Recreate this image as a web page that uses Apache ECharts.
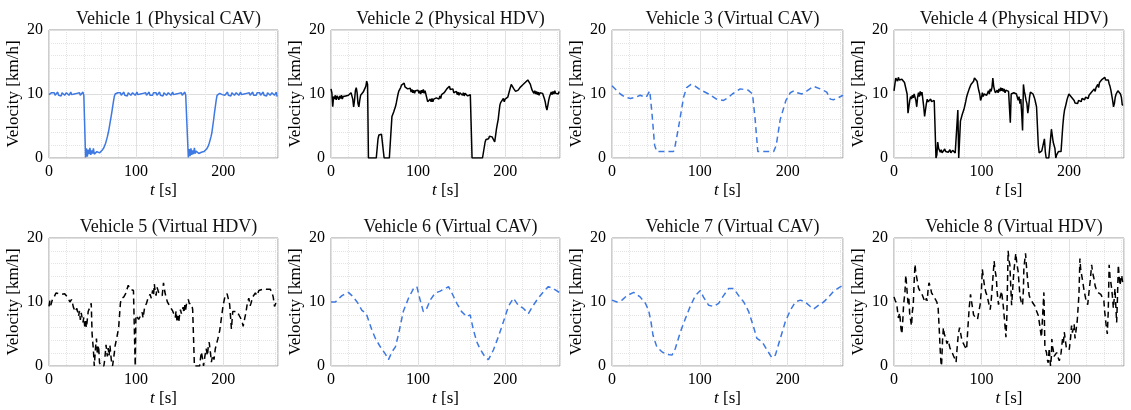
<!DOCTYPE html>
<html><head><meta charset="utf-8">
<script src="https://cdn.jsdelivr.net/npm/echarts@6/dist/echarts.min.js"></script>
<style>html,body{margin:0;padding:0;background:#fff}#c{width:1131px;height:410px}</style>
</head><body><div id="c"></div>
<script>
const titles = ['Vehicle 1 (Physical CAV)','Vehicle 2 (Physical HDV)','Vehicle 3 (Virtual CAV)','Vehicle 4 (Physical HDV)',
                'Vehicle 5 (Virtual HDV)','Vehicle 6 (Virtual CAV)','Vehicle 7 (Virtual CAV)','Vehicle 8 (Virtual HDV)'];
const xTicks = [0,100,200];
const yTicks = [0,10,20];
// Vehicle 1, 2, 4: sampled every 1 s starting at t = 0
const v1 = [9.9,10.1,9.8,10.2,9.9,10.0,10.2,9.8,10.1,9.9,10.3,9.8,10.0,10.1,9.7,10.2,9.9,10.1,9.8,10.0,10.2,9.9,10.1,9.8,10.0,10.3,9.9,10.1,9.8,10.0,10.2,9.7,10.1,9.9,10.0,10.2,9.8,10.1,9.9,10.3,9.8,10.0,
0.1,1.5,0.2,1.3,0.6,1.6,0.5,1.2,0.7,1.5,0.6,0.9,0.7,1.0,0.8,0.9,0.8,
0.9,1.0,1.2,1.4,1.6,1.9,2.3,2.8,3.3,3.9,4.6,5.4,6.2,7.0,7.9,8.8,9.6,10.0,
10.1,9.8,10.2,9.9,10.0,10.2,9.8,10.1,9.9,10.3,9.8,10.0,10.1,9.7,10.2,9.9,10.1,9.8,10.0,10.2,9.9,10.1,9.8,10.0,10.3,9.9,10.1,9.8,10.0,10.2,9.7,10.1,9.9,10.0,10.2,9.8,10.1,9.9,10.3,9.8,10.0,10.1,9.8,10.2,9.9,10.0,10.2,9.8,10.1,9.9,10.3,9.8,10.0,10.1,9.7,10.2,9.9,10.1,9.8,10.0,10.2,9.9,10.1,9.8,10.0,10.3,9.9,10.1,9.8,10.0,10.2,9.7,10.1,9.9,10.0,10.2,9.8,10.1,9.9,10.3,9.8,10.0,10.1,
0.1,1.4,0.3,1.5,0.5,1.2,0.6,1.6,0.7,1.1,0.8,0.9,0.7,1.0,0.8,0.9,0.8,
0.9,1.0,1.1,1.2,1.4,1.6,1.9,2.3,2.8,3.3,3.9,4.9,5.9,7.0,8.0,9.0,9.8,10.0,
9.9,10.1,9.8,10.2,9.9,10.0,10.2,9.8,10.1,9.9,10.3,9.8,10.0,10.1,9.7,10.2,9.9,10.1,9.8,10.0,10.2,9.9,10.1,9.8,10.0,10.3,9.9,10.1,9.8,10.0,10.2,9.7,10.1,9.9,10.0,10.2,9.8,10.1,9.9,10.3,9.8,10.0,10.1,9.8,10.2,9.9,10.0,10.2,9.8,10.1,9.9,10.3,9.8,10.0,10.1,9.7,10.2,9.9,10.1,9.8,10.0,10.2,9.9,10.1,9.8,10.0,10.3,9.6];
const v2 = [10.8,10.2,8.0,9.6,9.2,9.8,9.1,9.7,9.4,9.1,
9.7,9.3,9.8,9.2,9.6,9.9,9.3,9.7,10.0,9.4,
9.8,10.0,9.5,10.2,9.7,9.2,8.0,9.0,10.5,11.0,
10.2,8.5,8.0,9.0,9.8,10.0,9.9,10.3,10.6,10.2,
11.2,12.0,11.5,0,0,0,0,0,0,0,
0,0,0,0,3.0,3.6,3.8,3.6,3.7,3.5,
3.6,0,0,0,0,0,0,0,0,0,
6.5,6.8,7.2,7.6,8.0,8.6,9.3,10.0,10.5,10.8,
11.0,11.4,11.6,11.2,11.7,11.1,11.0,11.4,10.8,11.1,
10.5,10.9,10.3,10.7,10.2,10.6,10.1,10.5,10.7,10.2,
10.6,10.1,10.5,10.0,10.6,10.2,10.7,10.1,10.5,10.6,
10.3,8.8,9.1,8.6,9.2,8.8,9.3,8.8,9.2,9.4,
8.9,9.4,9.1,9.6,9.2,9.7,9.3,9.9,9.6,10.1,
10.2,10.5,10.2,10.8,10.9,10.5,11.2,10.7,11.0,10.4,
10.8,10.2,10.5,10.0,10.4,9.9,10.3,9.8,10.2,9.9,
10.3,9.8,10.2,9.7,10.1,9.8,10.2,9.7,10.0,9.6,
9.9,9.7,0,0,0,0,0,0,0,0,
0,0,0,0,0,0,0,2.5,2.9,2.7,
3.2,3.0,3.4,3.1,3.6,3.3,3.0,3.0,2.5,3.5,
4.5,5.3,6.0,7.2,8.3,8.7,9.0,8.7,9.3,8.8,
9.2,8.9,9.4,9.5,10.0,10.5,10.8,11.5,11.2,11.4,
10.8,10.6,10.4,10.2,10.3,10.6,10.8,11.0,11.2,11.0,
11.4,11.6,11.5,11.8,11.7,12.0,12.2,12.5,12.0,11.5,
11.0,10.6,10.5,10.1,10.5,10.0,10.4,9.9,10.3,9.8,
10.2,9.9,10.0,10.1,9.8,9.3,8.8,8.0,7.5,8.2,
9.0,9.6,9.8,10.3,9.9,10.4,10.0,10.5,10.1,9.9,
10.4,10.0,10.4];
const v4 = [10.5,11.5,12.5,12.3,12.0,12.6,12.2,12.4,11.9,12.3,
12.0,12.2,11.8,12.1,11.5,10.0,7.0,8.0,9.0,9.6,
9.2,9.8,9.4,10.0,9.5,9.0,8.0,9.5,10.2,9.6,
10.4,9.8,10.3,10.0,8.0,6.5,7.5,8.5,9.2,8.8,
9.0,8.6,9.2,8.8,9.1,8.7,9.0,8.9,0,0.5,
2.5,1.5,1.2,0.9,1.3,0.8,1.1,0.9,1.4,1.0,
0.8,1.2,0.9,1.1,1.3,0.8,1.0,1.2,0.9,1.1,
0.8,1.0,1.0,7.5,0,0,5.8,6.3,6.8,7.0,
7.6,8.2,8.8,9.5,10.0,10.4,10.8,11.0,11.5,11.2,
11.8,12.0,12.5,12.2,12.6,12.0,11.2,10.5,10.0,9.0,
9.4,10.2,9.6,10.0,9.7,10.3,9.8,10.1,10.5,10.0,
10.8,10.4,11.0,12.5,11.2,10.6,10.2,10.0,10.6,10.2,
10.8,10.4,11.0,10.5,10.9,10.4,10.8,10.2,10.6,10.3,
10.7,10.4,10.5,5.5,10.0,10.3,9.8,10.2,9.9,10.4,
10.0,9.5,9.0,9.6,8.5,9.2,7.0,4.3,11.5,10.4,
9.8,9.0,8.5,7.0,8.0,9.5,10.3,10.0,10.2,10.0,
9.6,9.2,8.6,8.0,5.0,2.0,0.8,1.0,0.7,1.1,
0.9,1.0,3.0,1.0,0,0,0,0,0,0.2,
4.5,3.5,2.5,2.0,1.5,0,0.5,0.8,1.0,0.7,
1.1,1.0,3.0,5.0,6.5,7.5,8.0,8.6,9.2,9.6,
10.0,9.7,10.2,9.5,9.8,9.3,9.0,8.6,8.3,8.8,
8.5,9.0,8.7,9.2,8.8,9.3,9.0,9.4,9.1,9.5,
9.2,9.6,9.3,9.8,9.5,10.0,10.3,10.0,10.5,10.8,
10.4,11.0,11.2,11.5,11.0,11.8,11.5,12.0,12.3,12.5,
12.1,12.6,12.2,12.4,12.0,12.2,11.6,11.2,10.6,10.3,
9.0,8.0,8.5,9.5,10.0,10.2,10.5,10.3,10.6,10.0,
9.5,8.3,8.3];
// Vehicles 3, 5, 6, 7, 8: [t (s), v (km/h)]
const v3 = [[0,11.3],[5,10.6],[9.5,10.0],[15,9.5],[21,9.3],[27,9.5],[32,9.8],[36,9.6],[39,9.5],[43,10.5],[45.5,7],[48.5,2],[51,1],[70,1],[72,2],[76,5],[81.5,9.5],[85,11],[90,11.5],[95,11.2],[100,10.7],[110,10],[119,9.2],[127,9],[132,9.4],[137,10],[146,10.8],[155,10.6],[160,10],[163,6],[166,1],[184,1],[187,2],[191.5,6],[198,9],[203,10.2],[207,10.5],[211,10.2],[216,10],[222,10.5],[229.5,11.2],[237,10.8],[244.5,10.3],[248.5,9.2],[252,9.1],[256,9.3],[263,9.8]];
const v5 = [[0,9.3],[1,10.2],[2,9.5],[4,10.4],[6,10.8],[8,11.4],[10,11.1],[12,11.3],[15,11.2],[18,11.3],[20,11.0],[22,10.6],[24,10.0],[26,10.4],[28,9.2],[30,8.5],[32,9.0],[34,7.8],[35,8.6],[36,7.2],[37,8.3],[39,6.8],[40,7.6],[41,6.2],[42,7.0],[43,6.0],[45,8.5],[47,9.2],[48.5,9.8],[49.5,5.0],[51,2.5],[52,0],[53.5,3.0],[54.5,4.3],[55.5,1.8],[57,3.2],[58,0.5],[60,0],[63,0],[64,1.0],[65.5,3.3],[67,1.5],[68,2.8],[69,1.6],[70,3.2],[71.5,1.0],[73,0],[75,2.0],[76,3.2],[78,4.5],[80,6.0],[82,9.8],[83,10.5],[85,10.2],[86,10.8],[88,11.3],[90,12.2],[91,12.6],[93,12.0],[95,12.2],[97,11.8],[98.5,11.8],[99,0],[99.8,7.9],[101,7.6],[103,7.3],[105,7.8],[107,8.4],[108,7.5],[110,9.3],[112,9.8],[113.5,10.5],[115,10.3],[116,11.2],[117.5,10.6],[119,11.8],[120,11.0],[121,12.8],[122,11.5],[123,11.0],[124,12.3],[126,11.5],[128,11.3],[130,11.0],[131.5,13.0],[133,11.6],[134,11.0],[136,10.0],[137,9.8],[139,9.3],[140.5,9.0],[142,8.6],[144,8.3],[145,7.6],[146,8.6],[147,7.0],[148,7.8],[149,6.8],[150,8.0],[151,8.8],[152,8.2],[154,9.2],[155,8.3],[156,9.5],[157,8.8],[158,9.8],[160,10.4],[161,9.8],[162,10.1],[164,9.6],[165,8.8],[166.5,8.5],[167,0],[173,0],[174,1.2],[175,2.2],[176.5,1.0],[177.5,0],[179,1.5],[180.5,2.7],[182,1.6],[183,3.2],[184,3.7],[185.5,2.0],[186.5,0.6],[188,1.7],[189.5,1.0],[191,2.7],[192.5,2.4],[194,4.3],[196,5.5],[198,7.5],[200,9.5],[202,10.8],[204.5,11.3],[206,11.0],[207.5,9.6],[209.5,5.8],[211,8.5],[213,8.3],[216,8.5],[218,8.4],[220,7.5],[222,6.8],[223,6.2],[225,7.6],[226,8.2],[228,10.0],[229.5,10.6],[231,9.4],[232,9.8],[234,10.8],[236,11.0],[237,11.4],[239,11.0],[241,11.8],[243,12.1],[246,12.0],[250,12.0],[254,12.0],[256,11.5],[257.5,10.8],[259,9.3],[260,9.6],[261,10.0],[263,10.4]];
const v6 = [[0,10],[5,10],[12.6,11],[20,11.5],[24,11],[30,10],[35.5,8.7],[40.5,8.2],[43,7.2],[47,5.6],[51,4.3],[56.6,3],[62.3,1.9],[66,1],[70,2.2],[74,3],[77.6,5],[83,8.5],[89,10.6],[94.8,12.1],[98.6,12.4],[102.4,10.3],[106,8.5],[110,9],[114,10.3],[119.6,11.4],[125.4,11.7],[131,12.1],[135,12.4],[138.8,11.4],[144.5,9.8],[150,8.5],[156,7.7],[159.8,8],[163.6,5.6],[167.4,3.8],[171,2.7],[177,1.4],[180.8,1],[186.5,2.5],[192.3,4.6],[198,6.9],[203.7,9.3],[209.5,10.6],[215,9.5],[221,9],[226.7,8.2],[232.4,9.5],[238,10.6],[244,11.6],[249.6,12.4],[255.4,12.1],[263,11.4]];
const v7 = [[0,10.3],[5.7,10],[11.4,10.3],[17,11],[24.7,11.5],[32,10.8],[38,9.8],[41.7,8.7],[44.4,6.9],[46.7,4.8],[51,3],[57,2.2],[62.6,1.8],[68.3,1.7],[72,2.7],[77.8,5.3],[83.5,7.4],[89,9.3],[94.9,11],[100.6,11.8],[104,10.8],[110,9.5],[115.7,9.3],[121.4,9.8],[127,11],[132.8,12.1],[138.5,12.1],[144.2,11],[150,10],[155.6,8.5],[160.5,6.4],[165,4.3],[170.8,3.8],[176.5,2.5],[182,1.3],[186,1.7],[191.6,4.3],[197.3,6.9],[203,8.7],[208.7,10],[214.4,10.3],[220,10],[225.8,9.3],[229.6,8.9],[235.3,9.5],[241,10],[246.7,10.8],[252.4,11.7],[258,12.2],[263,12.6]];
const v8 = [[0,10.8],[1.5,10.2],[3,9.8],[5,7.5],[6.5,8.3],[8,5.8],[9,5.0],[10,7.0],[11,9.6],[12.5,11.5],[13.5,14.2],[14.5,12.5],[16,9.8],[17,10.5],[18,8.0],[19,7.2],[20,6.3],[21,8.5],[22,9.5],[23,13.0],[24,15.9],[25,14.5],[26,13.8],[28,12.2],[30,11.6],[32,11.2],[34,10.5],[36,10.0],[37,10.6],[38,10.2],[39,12.0],[40,13.0],[41.5,12.4],[43,11.4],[45,11.0],[47,10.8],[49,10.0],[50.5,9.0],[52,5.0],[53,2.0],[54,0],[54.5,0.5],[55.5,4.0],[56.5,6.0],[57.5,5.0],[59,4.4],[60.5,3.5],[62,4.0],[64,2.8],[66,2.3],[68,1.6],[70,1.0],[71,0.6],[72,2.5],[73.5,4.9],[75,6.0],[76,5.3],[77.5,4.1],[79,3.6],[80.5,3.2],[82,2.9],[83,2.6],[84.5,6.0],[86,9.1],[87.5,11.2],[89,9.8],[91,8.0],[93,7.6],[95.5,7.3],[97,8.5],[98.5,9.6],[100,12.0],[101,15.1],[102,14.0],[103.5,12.5],[105,11.5],[106.5,11.0],[108,10.0],[110,8.8],[111,10.0],[112,11.7],[113.5,14.5],[114.5,16.4],[115.5,15.0],[117,13.8],[118,11.5],[119.5,9.6],[121,10.5],[123,11.7],[125,9.3],[126.5,7.0],[128,4.5],[129,7.5],[130.5,18.0],[131.5,16.5],[132.5,15.8],[133.5,12.5],[134.5,9.5],[135.5,11.5],[137,14.7],[138,16.0],[139.3,17.6],[140.5,16.0],[142,14.7],[143,12.8],[144,11.0],[145.5,10.0],[147,9.5],[148,12.0],[148.5,15.3],[150.4,17.6],[151.5,15.5],[152.3,14.2],[153.5,12.5],[154.6,11.0],[156,10.5],[157.3,10.3],[159,9.8],[161,9.4],[163,8.6],[165,7.9],[166.5,6.5],[168,5.0],[168.7,4.5],[170,8.0],[171.4,11.5],[172.5,3.2],[173.5,2.5],[174.4,2.1],[175.3,1.0],[176.3,0.5],[177.5,2.8],[178.3,1.0],[179,0],[180,1.5],[180.5,4.2],[181.3,3.0],[182,2.6],[183,1.5],[184,1.8],[185,1.2],[186,2.1],[187,1.6],[187.8,1.3],[189,0.8],[189.7,0.5],[191,2.0],[192.7,4.2],[193.7,3.6],[194.7,5.3],[196,4.0],[197.3,2.6],[199,2.8],[200.4,2.6],[202,4.5],[203,6.3],[204,5.2],[205,5.3],[206,6.5],[207,4.3],[208,4.2],[209.5,7.0],[210.7,9.5],[211.5,11.2],[212.6,16.8],[213.5,15.0],[214.5,14.7],[215.5,13.5],[217,12.1],[218.5,11.0],[220,10.0],[221.5,9.6],[223,11.6],[224.5,13.5],[226,15.8],[227.3,14.5],[228.6,13.7],[230,12.5],[231,12.1],[233,11.5],[234.7,11.8],[236.5,11.2],[238.5,11.0],[240,10.2],[241,8.4],[242.5,6.5],[243.9,5.0],[245,8.5],[246,15.8],[247,14.0],[248.9,12.1],[250,10.5],[250.8,9.0],[251.8,10.5],[252.7,12.1],[253.6,9.5],[254.6,6.8],[255.5,10.5],[256.5,15.8],[257.5,14.0],[258.4,12.6],[259.3,13.5],[260.3,14.2],[261.5,13.0],[263,12.6]];

const BLUE = '#3d78e3', BLACK = '#000000';
const sampled = a => a.map((v, i) => [i, v]);
const vehicles = [
  {data: sampled(v1), color: BLUE, dash: false},
  {data: sampled(v2), color: BLACK, dash: false},
  {data: v3, color: BLUE, dash: true},
  {data: sampled(v4), color: BLACK, dash: false},
  {data: v5, color: BLACK, dash: true},
  {data: v6, color: BLUE, dash: true},
  {data: v7, color: BLUE, dash: true},
  {data: v8, color: BLACK, dash: true}
];

const F = 'Liberation Serif';
const XMAX = 263;
const cols = [[49,229],[331,229],[612,231],[894,230]];
const rows = [30, 238];
const H = 128;
const grid=[], xAxis=[], yAxis=[], series=[], title=[];
const MAJ = '#dedede', MIN = '#e4e4e4';
for (let k = 0; k < 8; k++) {
  const r = Math.floor(k / 4), c = k % 4;
  const [L, W] = cols[c];
  grid.push({left: L, top: rows[r], width: W, height: H, show: true, borderColor: '#9a9a9a', borderWidth: 1, backgroundColor: '#fff'});
  title.push({text: titles[k], left: L + W / 2, top: rows[r] - 25, textAlign: 'center',
    textStyle: {fontFamily: F, fontSize: 18, fontWeight: 'normal', color: '#111'}});
  xAxis.push({gridIndex: k, type: 'value', min: 0, max: XMAX, interval: 100,
    axisLine: {show: false}, axisTick: {show: false},
    axisLabel: {fontFamily: F, fontSize: 16, color: '#000', margin: 6, showMaxLabel: false,
      formatter: v => xTicks.includes(v) ? String(v) : ''},
    splitLine: {show: true, lineStyle: {color: MAJ, width: 1}},
    name: '{i|t} [s]', nameLocation: 'middle', nameGap: 24,
    nameTextStyle: {fontFamily: F, fontSize: 17, color: '#000',
      rich: {i: {fontFamily: F, fontSize: 17, fontStyle: 'italic', color: '#000'}}}});
  xAxis.push({gridIndex: k, type: 'value', min: 0, max: XMAX, interval: 20,
    axisLine: {show: false}, axisTick: {show: false}, axisLabel: {show: false},
    splitLine: {show: true, lineStyle: {color: MIN, width: 1, type: 'dotted'}}});
  yAxis.push({gridIndex: k, type: 'value', min: 0, max: 20, interval: 10,
    axisLine: {show: false}, axisTick: {show: false},
    axisLabel: {fontFamily: F, fontSize: 16, color: '#000', margin: 6,
      formatter: v => yTicks.includes(v) ? String(v) : ''},
    splitLine: {show: true, lineStyle: {color: MAJ, width: 1}},
    minorTick: {show: false, splitNumber: 5},
    minorSplitLine: {show: true, lineStyle: {color: MIN, width: 1, type: 'dotted'}},
    name: 'Velocity [km/h]', nameLocation: 'middle', nameGap: 27, nameRotate: 90,
    nameTextStyle: {fontFamily: F, fontSize: 17, color: '#000'}});
  const vh = vehicles[k];
  series.push({type: 'line', xAxisIndex: 2 * k, yAxisIndex: k, data: vh.data, showSymbol: false,
    symbol: 'none', clip: true, z: 5,
    lineStyle: {color: vh.color, width: 1.5, type: vh.dash ? [6, 4] : 'solid'}});
}
const chart = echarts.init(document.getElementById('c'), null, {renderer: 'canvas'});
chart.setOption({animation: false, backgroundColor: '#fff', title, grid, xAxis, yAxis, series});
</script></body></html>
